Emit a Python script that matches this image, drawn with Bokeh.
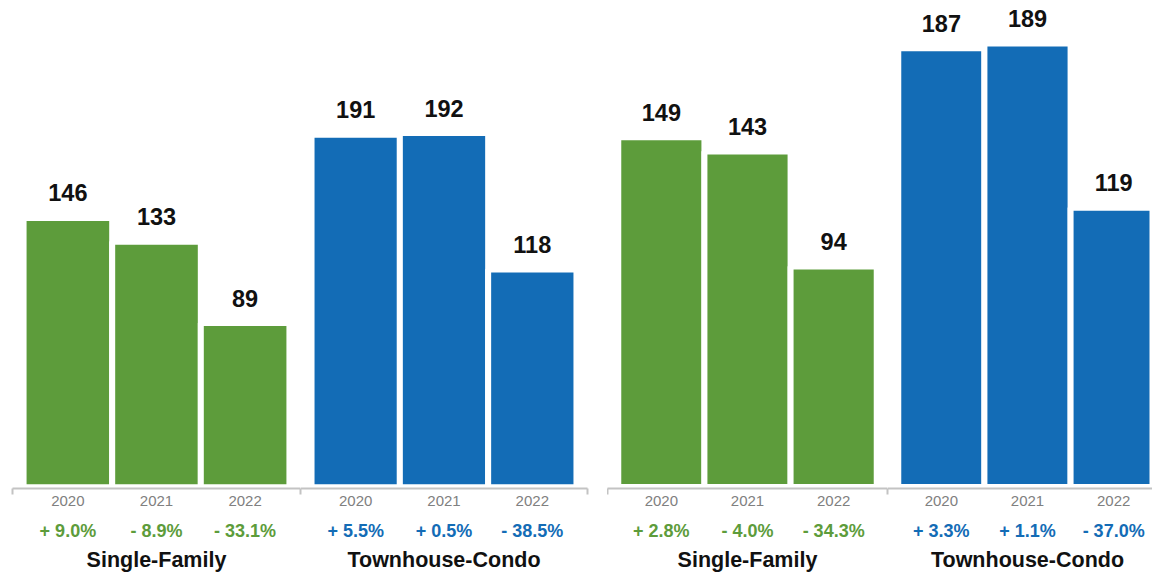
from bokeh.plotting import figure
from bokeh.models import Range1d, LinearAxis, FixedTicker, ColumnDataSource
from bokeh.layouts import row
from bokeh.embed import file_html
from bokeh.resources import INLINE
from bokeh.core.properties import value

# ---- data ----
years = ["2020", "2021", "2022"]
group_names = ["Single-Family", "Townhouse-Condo"]
left_single_family = [146, 133, 89]
left_townhouse_condo = [191, 192, 118]
right_single_family = [149, 143, 94]
right_townhouse_condo = [187, 189, 119]
left_sf_change = ["+ 9.0%", "- 8.9%", "- 33.1%"]
left_tc_change = ["+ 5.5%", "+ 0.5%", "- 38.5%"]
right_sf_change = ["+ 2.8%", "- 4.0%", "- 34.3%"]
right_tc_change = ["+ 3.3%", "+ 1.1%", "- 37.0%"]

# ---- style ----
GREEN = "#5d9c3b"
BLUE = "#136cb6"
AXIS_GRAY = "#c3c3c3"
YEAR_GRAY = "#808080"
FONT = "Liberation Sans"
PAD = 0.625
HEIGHT = 575
BORDER_TOP = 8
BORDER_BOTTOM = 87

left_y = Range1d(-0.7, 259.5)
right_y = Range1d(-0.6, 203.9)


def make_group(vals, changes, name, color, y_range, frame_w, b_left, b_right,
               x_end=None, end_tick=True):
    pos = list(range(len(years)))
    start = -PAD
    end = x_end if x_end is not None else (len(years) - 1 + PAD)
    p = figure(width=frame_w + b_left + b_right, height=HEIGHT,
               x_range=Range1d(start, end), y_range=y_range,
               x_axis_location=None, y_axis_location=None,
               toolbar_location=None, output_backend="svg",
               min_border_left=b_left, min_border_right=b_right,
               min_border_top=BORDER_TOP, min_border_bottom=BORDER_BOTTOM)
    p.outline_line_color = None
    p.grid.grid_line_color = None
    p.background_fill_color = "white"
    p.border_fill_color = "white"

    src = ColumnDataSource(dict(x=pos, top=vals, label=[str(v) for v in vals]))
    p.vbar(x="x", top="top", bottom=0, width=1.0, source=src,
           fill_color=color, line_color="white", line_width=6)
    p.text(x="x", y="top", text="label", source=src,
           text_font=value(FONT), text_font_style="bold",
           text_font_size="23.5px", text_color="#111111",
           text_align="center", text_baseline="alphabetic", y_offset=-25)

    minors = [start, end] if end_tick else [start]
    ax1 = LinearAxis(ticker=FixedTicker(ticks=pos, minor_ticks=minors),
                     major_label_overrides={i: y for i, y in enumerate(years)})
    ax1.axis_line_color = AXIS_GRAY
    ax1.axis_line_width = 2
    ax1.major_tick_line_color = None
    ax1.major_tick_in = 0
    ax1.major_tick_out = 0
    ax1.minor_tick_line_color = AXIS_GRAY
    ax1.minor_tick_line_width = 2
    ax1.minor_tick_in = 0
    ax1.minor_tick_out = 6
    ax1.major_label_standoff = 1
    ax1.major_label_text_font = FONT
    ax1.major_label_text_font_size = "15px"
    ax1.major_label_text_color = YEAR_GRAY
    p.add_layout(ax1, "below")

    ax2 = LinearAxis(ticker=FixedTicker(ticks=pos, minor_ticks=[]),
                     major_label_overrides={i: c for i, c in enumerate(changes)})
    ax2.axis_line_color = None
    ax2.major_tick_line_color = None
    ax2.minor_tick_line_color = None
    ax2.major_tick_in = 0
    ax2.major_tick_out = 0
    ax2.major_label_standoff = 12
    ax2.major_label_text_font = FONT
    ax2.major_label_text_font_style = "bold"
    ax2.major_label_text_font_size = "18px"
    ax2.major_label_text_color = color
    p.add_layout(ax2, "below")

    mid = (len(years) - 1) / 2
    ax3 = LinearAxis(ticker=FixedTicker(ticks=[mid], minor_ticks=[]),
                     major_label_overrides={mid: name})
    ax3.axis_line_color = None
    ax3.major_tick_line_color = None
    ax3.minor_tick_line_color = None
    ax3.major_tick_in = 0
    ax3.major_tick_out = 0
    ax3.major_label_standoff = 4
    ax3.major_label_text_font = FONT
    ax3.major_label_text_font_style = "bold"
    ax3.major_label_text_font_size = "21.5px"
    ax3.major_label_text_color = "#111111"
    p.add_layout(ax3, "below")
    return p


unit_right = 280 / (len(years) - 1 + 2 * PAD)
pA = make_group(left_single_family, left_sf_change, group_names[0], GREEN,
                left_y, 288, 12, 0)
pB = make_group(left_townhouse_condo, left_tc_change, group_names[1], BLUE,
                left_y, 287, 0, 20)
pC = make_group(right_single_family, right_sf_change, group_names[0], GREEN,
                right_y, 280, 0, 0)
pD = make_group(right_townhouse_condo, right_tc_change, group_names[1], BLUE,
                right_y, 265, 0, 0, x_end=-PAD + 265 / unit_right, end_tick=False)

layout = row(pA, pB, pC, pD, spacing=0)
open("out.html", "w").write(file_html(layout, INLINE))
